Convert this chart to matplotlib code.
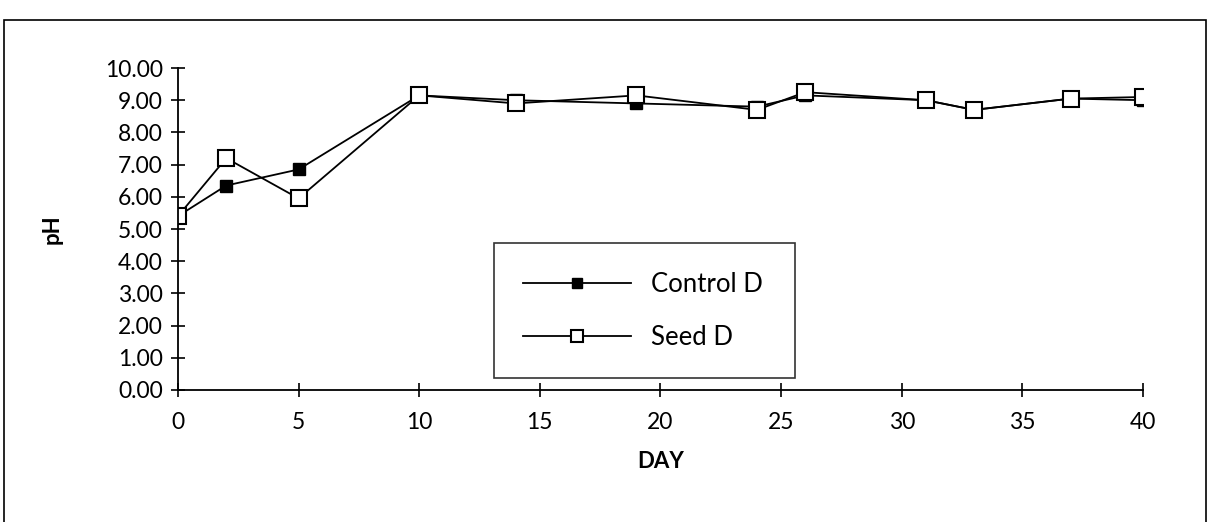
import matplotlib.pyplot as plt
from matplotlib.patches import Rectangle

days = [0, 2, 5, 10, 14, 19, 24, 26, 31, 33, 37, 40]
control_d = [5.4, 6.35, 6.85, 9.15, 9.0, 8.9, 8.8, 9.15, 9.0, 8.7, 9.05, 9.0]
seed_d = [5.4, 7.2, 5.95, 9.15, 8.9, 9.15, 8.7, 9.25, 9.0, 8.7, 9.05, 9.1]

plt.rcParams['font.family'] = ['Lato', 'DejaVu Sans']

fig = plt.figure(figsize=(12.14, 5.22), dpi=100)
ax = fig.add_axes([0.1466, 0.2529, 0.7949, 0.6168])

ax.plot(days, control_d, color='black', lw=1.3, marker='s', ms=8.5,
        mfc='black', mec='black', label='Control D')
ax.plot(days, seed_d, color='black', lw=1.3, marker='s', ms=11,
        mfc='white', mec='black', mew=1.5, label='Seed D')

ax.set_xlim(0, 40)
ax.set_ylim(0, 10)
ax.set_xticks(range(0, 41, 5))
ax.set_yticks(range(0, 11))
ax.set_yticklabels([f"{v:.2f}" for v in range(0, 11)])
ax.tick_params(direction='inout', length=10, width=1.2, labelsize=16.5)
ax.tick_params(axis='x', pad=11)
ax.tick_params(axis='y', pad=6)

for s in ['top', 'right']:
    ax.spines[s].set_visible(False)
for s in ['left', 'bottom']:
    ax.spines[s].set_linewidth(1.3)

ax.set_xlabel('DAY', fontsize=16, fontweight='bold', labelpad=13)
ax.set_ylabel('pH', fontsize=16, fontweight='bold', labelpad=30)

leg = ax.legend(loc='lower left', bbox_to_anchor=(0.328, 0.037, 0.311, 0.42),
                mode='expand', borderaxespad=0, fontsize=18.5, handlelength=4.2,
                labelspacing=1.1, borderpad=1.1, markerscale=0.8, frameon=True,
                fancybox=False, edgecolor='black')
leg.get_frame().set_linewidth(1.2)

fig.patches.append(Rectangle((0.003, -0.01), 0.99, 0.972, transform=fig.transFigure,
                             fill=False, edgecolor='black', lw=1.2))

fig.savefig('out.png', dpi=100)
